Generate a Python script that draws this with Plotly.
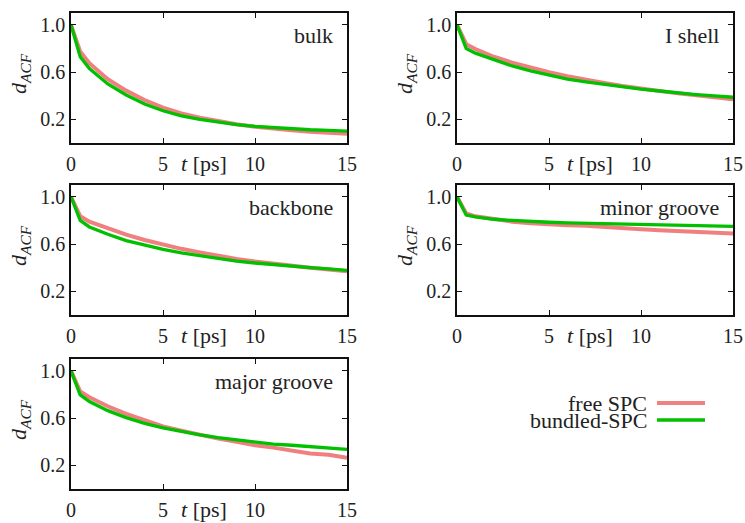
import plotly.graph_objects as go

t = [0, 0.5, 1, 2, 3, 4, 5, 6, 7, 8, 9, 10, 11, 12, 13, 14, 15]

bulk_free = [1.0, 0.774, 0.675, 0.54, 0.443, 0.364, 0.30, 0.25, 0.214, 0.183, 0.158, 0.138, 0.12, 0.107, 0.095, 0.087, 0.078]
bulk_bund = [1.0, 0.73, 0.63, 0.50, 0.406, 0.33, 0.273, 0.23, 0.20, 0.175, 0.155, 0.14, 0.13, 0.12, 0.112, 0.107, 0.10]

ishell_free = [1.0, 0.836, 0.795, 0.73, 0.68, 0.638, 0.60, 0.565, 0.534, 0.508, 0.483, 0.46, 0.44, 0.42, 0.403, 0.387, 0.37]
ishell_bund = [1.0, 0.80, 0.76, 0.703, 0.652, 0.61, 0.573, 0.54, 0.517, 0.494, 0.474, 0.455, 0.44, 0.423, 0.41, 0.398, 0.387]

backbone_free = [1.0, 0.836, 0.79, 0.735, 0.68, 0.635, 0.595, 0.56, 0.53, 0.50, 0.475, 0.453, 0.433, 0.415, 0.40, 0.385, 0.37]
backbone_bund = [1.0, 0.80, 0.745, 0.683, 0.63, 0.59, 0.555, 0.525, 0.50, 0.48, 0.455, 0.44, 0.425, 0.41, 0.40, 0.39, 0.377]

minor_free = [1.0, 0.86, 0.835, 0.81, 0.79, 0.777, 0.765, 0.76, 0.755, 0.743, 0.737, 0.726, 0.717, 0.71, 0.70, 0.695, 0.69]
minor_bund = [1.0, 0.845, 0.83, 0.81, 0.80, 0.79, 0.785, 0.78, 0.777, 0.774, 0.77, 0.768, 0.765, 0.76, 0.757, 0.755, 0.75]

major_free = [1.0, 0.825, 0.777, 0.70, 0.636, 0.58, 0.53, 0.494, 0.457, 0.426, 0.40, 0.37, 0.35, 0.327, 0.30, 0.29, 0.265]
major_bund = [1.0, 0.796, 0.74, 0.663, 0.604, 0.556, 0.517, 0.486, 0.457, 0.435, 0.415, 0.40, 0.38, 0.37, 0.36, 0.35, 0.335]

panels = [
    ("bulk", bulk_free, bulk_bund),
    ("I shell", ishell_free, ishell_bund),
    ("backbone", backbone_free, backbone_bund),
    ("minor groove", minor_free, minor_bund),
    ("major groove", major_free, major_bund),
]

x_ticks = [0, 5, 10, 15]
x_tick_text = ["0", "5", "10", "15"]
y_ticks = [0.2, 0.6, 1.0]
y_tick_text = ["0.2", "0.6", "1.0"]

series_names = ["free SPC", "bundled-SPC"]
colors = ["#f08080", "#00c000"]
widths = [4, 3.3]

W, H = 745, 523
FONT = "Liberation Serif"
TXT = "#222222"
FS_TICK = 20
FS_LAB = 22

col_px = [(71, 347), (457, 733)]
row_px = [(13, 143), (185, 315), (359, 489)]

fig = go.Figure()
layout = dict(
    width=W, height=H,
    margin=dict(l=0, r=0, t=0, b=0, autoexpand=False),
    paper_bgcolor="white", plot_bgcolor="white",
    showlegend=False,
    font=dict(family=FONT, size=FS_TICK, color=TXT),
)
annotations = []
shapes = []

for i, (label, free, bund) in enumerate(panels):
    r, c = divmod(i, 2)
    k = i + 1
    xa = "x" if k == 1 else f"x{k}"
    ya = "y" if k == 1 else f"y{k}"
    for vals, name, col, w in zip([free, bund], series_names, colors, widths):
        fig.add_trace(go.Scatter(x=t, y=vals, mode="lines", name=name,
                                 line=dict(color=col, width=w),
                                 xaxis=xa, yaxis=ya, showlegend=False))
    x0, x1 = col_px[c]
    y0, y1 = row_px[r]
    layout["xaxis" if k == 1 else f"xaxis{k}"] = dict(
        domain=[x0 / W, x1 / W], range=[0, 15], anchor=ya, automargin=False,
        tickvals=x_ticks, ticktext=x_tick_text,
        ticks="inside", ticklen=5, tickcolor="#111", tickwidth=1,
        showline=True, linecolor="#111", linewidth=1.5, mirror="ticks",
        showgrid=False, zeroline=False, ticklabelstandoff=2,
        tickfont=dict(family=FONT, size=FS_TICK, color=TXT),
    )
    layout["yaxis" if k == 1 else f"yaxis{k}"] = dict(
        domain=[1 - y1 / H, 1 - y0 / H], range=[0, 1.1], anchor=xa, automargin=False,
        tickvals=y_ticks, ticktext=y_tick_text,
        ticks="inside", ticklen=5, tickcolor="#111", tickwidth=1,
        showline=True, linecolor="#111", linewidth=1.5, mirror="ticks",
        showgrid=False, zeroline=False,
        tickfont=dict(family=FONT, size=FS_TICK, color=TXT),
    )
    # y-axis title
    annotations.append(dict(
        text="<i>d</i><sub><i>ACF</i></sub>", xref="paper", yref="paper",
        x=(x0 - 51) / W, y=1 - ((y0 + y1) / 2 - 4) / H, textangle=-90,
        xanchor="center", yanchor="middle", showarrow=False,
        font=dict(family=FONT, size=22, color=TXT),
    ))
    # panel label
    annotations.append(dict(
        text=label, xref=f"{xa} domain", yref=f"{ya} domain",
        x=0.955, y=0.83, xanchor="right", yanchor="middle", showarrow=False,
        font=dict(family=FONT, size=FS_LAB, color=TXT),
    ))
    # x-axis label in tick-label row
    annotations.append(dict(
        text="<i>t</i> [ps]", xref=xa, yref="paper",
        x=7.25, y=1 - (y1 + 20) / H, xanchor="center", yanchor="middle",
        showarrow=False, font=dict(family=FONT, size=FS_LAB, color=TXT),
    ))

# legend (text left of line sample)
leg_y = [403, 420]
for name, col, w, yy in zip(series_names, colors, widths, leg_y):
    annotations.append(dict(
        text=name, xref="paper", yref="paper", x=649 / W, y=1 - yy / H,
        xanchor="right", yanchor="middle", showarrow=False,
        font=dict(family=FONT, size=FS_LAB, color=TXT),
    ))
    shapes.append(dict(type="line", xref="paper", yref="paper",
                       x0=657 / W, x1=705 / W, y0=1 - yy / H, y1=1 - yy / H,
                       line=dict(color=col, width=w)))

layout["annotations"] = annotations
layout["shapes"] = shapes
fig.update_layout(**layout)
fig.write_html("out.html")
